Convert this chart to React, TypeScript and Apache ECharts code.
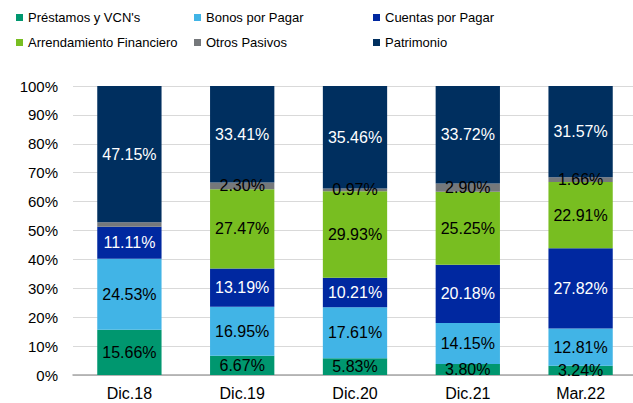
import React, { useEffect, useRef } from "react";
import * as echarts from "echarts";

const categories = ["Dic.18", "Dic.19", "Dic.20", "Dic.21", "Mar.22"];
const seriesNames = [
  "Préstamos y VCN's",
  "Bonos por Pagar",
  "Cuentas por Pagar",
  "Arrendamiento Financiero",
  "Otros Pasivos",
  "Patrimonio",
];
const prestamos = [15.66, 6.67, 5.83, 3.8, 3.24];
const bonos = [24.53, 16.95, 17.61, 14.15, 12.81];
const cuentas = [11.11, 13.19, 10.21, 20.18, 27.82];
const arrendamiento = [0, 27.47, 29.93, 25.25, 22.91];
const otros = [1.55, 2.3, 0.97, 2.9, 1.66];
const patrimonio = [47.15, 33.41, 35.46, 33.72, 31.57];
// which labels are shown (Dic.18 Otros / Arrendamiento have no label)
const otrosLabelShown = [false, true, true, true, true];
const yTicks = [0, 10, 20, 30, 40, 50, 60, 70, 80, 90, 100];

const colors = ["#00976F", "#41B4E6", "#0028A0", "#78BE21", "#75787B", "#002F5F"];
const labelColors = ["#000", "#000", "#fff", "#000", "#000", "#fff"];
const FONT = "'Liberation Sans', Arial, sans-serif";

export default function App() {
  const ref = useRef<HTMLDivElement>(null);
  useEffect(() => {
    if (!ref.current) return;
    const chart = echarts.init(ref.current, undefined, { renderer: "svg" });
    const data = [prestamos, bonos, cuentas, arrendamiento, otros, patrimonio];
    const legendPos = [
      { left: 16, top: 11 },
      { left: 194, top: 11 },
      { left: 373, top: 11 },
      { left: 16, top: 36 },
      { left: 194, top: 36 },
      { left: 373, top: 36 },
    ];
    const option: any = {
      animation: false,
      color: colors,
      textStyle: { fontFamily: FONT },
      legend: seriesNames.map((n, i) => ({
        data: [n],
        left: legendPos[i].left,
        top: legendPos[i].top,
        padding: 0,
        itemWidth: 7,
        itemHeight: 7,
        icon: "rect",
        selectedMode: false,
        textStyle: { fontSize: 13, color: "#000", fontFamily: FONT },
      })),
      grid: {
        left: 73,
        top: 86,
        width: 564,
        height: 289,
        containLabel: false,
        outerBoundsMode: "none",
      },
      xAxis: {
        type: "category",
        data: categories,
        axisTick: { show: false },
        axisLine: { show: true, lineStyle: { color: "#A6A6A6", width: 1.5 } },
        axisLabel: { color: "#000", fontSize: 16, margin: 10, fontFamily: FONT },
      },
      yAxis: {
        type: "value",
        min: yTicks[0],
        max: yTicks[yTicks.length - 1],
        interval: 10,
        axisLine: { show: false },
        axisTick: { show: false },
        splitLine: { lineStyle: { color: "#D9D9D9", width: 1 } },
        axisLabel: {
          color: "#000",
          fontSize: 15,
          margin: 15,
          fontFamily: FONT,
          formatter: "{value}%",
        },
      },
      series: seriesNames.map((n, i) => ({
        name: n,
        type: "bar",
        stack: "total",
        barWidth: "57%",
        data: data[i].map((v, j) => ({
          value: v,
          label: {
            show:
              v > 0 && (i !== 4 || otrosLabelShown[j]),
          },
        })),
        itemStyle: { color: colors[i] },
        label: {
          show: true,
          position: "inside",
          color: labelColors[i],
          fontSize: 16,
          fontFamily: FONT,
          formatter: (p: any) => p.value.toFixed(2) + "%",
        },
      })),
    };
    chart.setOption(option);
    return () => chart.dispose();
  }, []);
  return (
    <div
      ref={ref}
      style={{ position: "absolute", left: 0, top: 0, width: 633, height: 403, background: "#fff" }}
    />
  );
}
